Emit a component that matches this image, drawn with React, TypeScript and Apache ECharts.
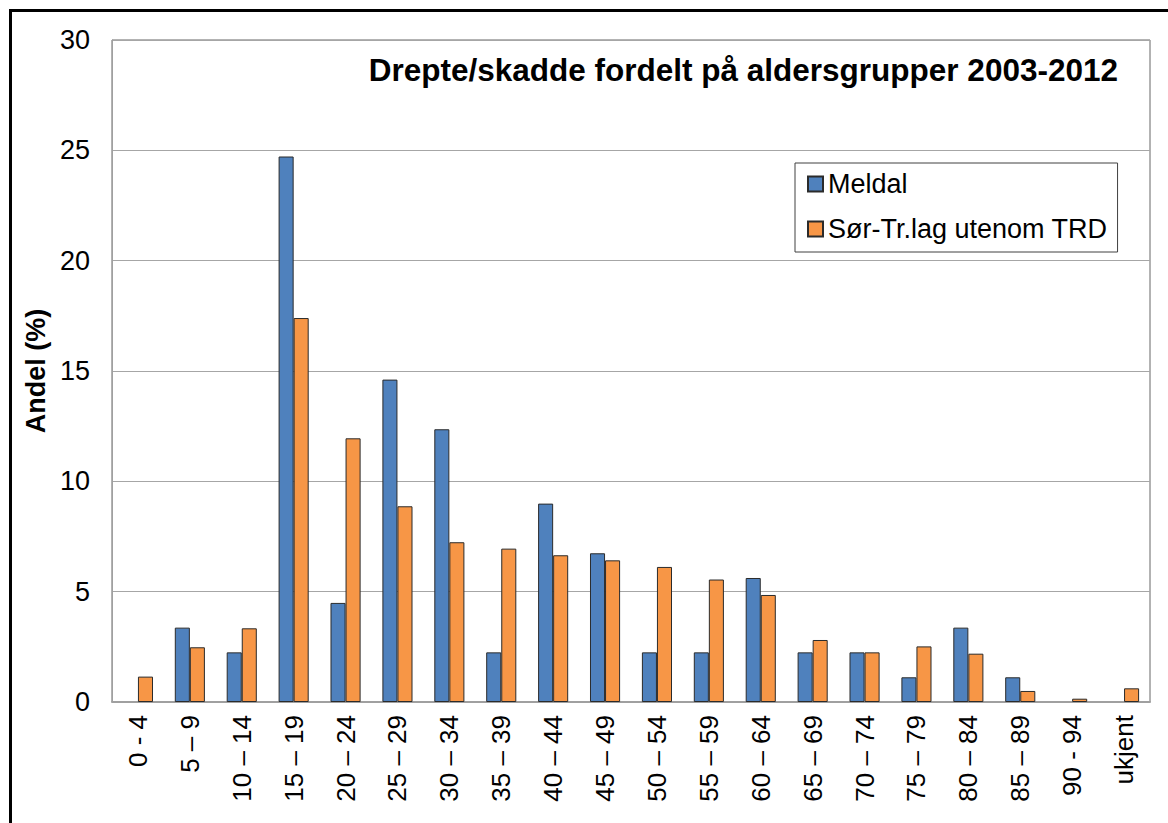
import React, { useEffect, useRef } from "react";
import * as echarts from "echarts";

const categories = [
  "0 - 4", "5 – 9", "10 – 14", "15 – 19", "20 – 24", "25 – 29", "30 – 34",
  "35 – 39", "40 – 44", "45 – 49", "50 – 54", "55 – 59", "60 – 64", "65 – 69",
  "70 – 74", "75 – 79", "80 – 84", "85 – 89", "90 - 94", "ukjent",
];
const meldal = [
  0, 3.37, 2.25, 24.72, 4.49, 14.61, 12.36, 2.25, 8.99, 6.74,
  2.25, 2.25, 5.62, 2.25, 2.25, 1.12, 3.37, 1.12, 0, 0,
];
const sorTrlag = [
  1.15, 2.48, 3.34, 17.4, 11.95, 8.87, 7.24, 6.95, 6.65, 6.42,
  6.12, 5.55, 4.85, 2.81, 2.25, 2.52, 2.19, 0.5, 0.15, 0.62,
];
const seriesNames = ["Meldal", "Sør-Tr.lag utenom TRD"];
const titleText = "Drepte/skadde fordelt på aldersgrupper 2003-2012";
const yAxisName = "Andel (%)";

const FONT = "'Liberation Sans', Arial, sans-serif";

const toBarData = (vals: number[]) =>
  vals.map((v) => (v === 0 ? { value: 0, itemStyle: { borderWidth: 0 } } : v));

export default function App() {
  const ref = useRef<HTMLDivElement>(null);
  useEffect(() => {
    if (!ref.current) return;
    const chart = echarts.init(ref.current, null, { renderer: "svg" });
    chart.setOption({
      animation: false,
      backgroundColor: "#ffffff",
      textStyle: { fontFamily: FONT },
      title: {
        text: titleText,
        right: 50,
        top: 53,
        padding: 0,
        textStyle: {
          fontFamily: FONT,
          fontSize: 31.5,
          fontWeight: "bold",
          color: "#000",
          lineHeight: 34,
        },
      },
      legend: {
        orient: "vertical",
        left: 795,
        top: 163,
        padding: [6, 10, 8, 12],
        itemWidth: 15,
        itemHeight: 15,
        itemGap: 15,
        icon: "rect",
        backgroundColor: "#fff",
        borderColor: "#404040",
        borderWidth: 1,
        borderRadius: 0,
        textStyle: {
          fontFamily: FONT,
          fontSize: 27,
          color: "#000",
          lineHeight: 30,
        },
        data: seriesNames,
      },
      grid: {
        left: 112,
        top: 40,
        right: 18,
        bottom: 121,
        show: true,
        borderColor: "#666",
        borderWidth: 1,
        backgroundColor: "transparent",
      },
      xAxis: {
        type: "category",
        data: categories,
        axisLine: { show: true, lineStyle: { color: "#a0a0a0", width: 2 } },
        axisTick: { show: false },
        axisLabel: {
          rotate: 90,
          interval: 0,
          margin: 13,
          fontFamily: FONT,
          fontSize: 26,
          color: "#000",
        },
      },
      yAxis: {
        type: "value",
        min: 0,
        max: 30,
        interval: 5,
        name: yAxisName,
        nameLocation: "middle",
        nameGap: 58,
        nameTextStyle: {
          fontFamily: FONT,
          fontSize: 27,
          fontWeight: "bold",
          color: "#000",
        },
        axisLine: { show: true, lineStyle: { color: "#a0a0a0", width: 1 } },
        axisTick: { show: false },
        axisLabel: {
          margin: 22,
          fontFamily: FONT,
          fontSize: 27,
          color: "#000",
        },
        splitLine: { show: true, lineStyle: { color: "#a6a6a6", width: 1 } },
      },
      series: [
        {
          name: seriesNames[0],
          type: "bar",
          data: toBarData(meldal),
          barGap: "0%",
          barCategoryGap: "42%",
          itemStyle: { color: "#4F81BD", borderColor: "#2b2b2b", borderWidth: 1 },
        },
        {
          name: seriesNames[1],
          type: "bar",
          data: toBarData(sorTrlag),
          barGap: "0%",
          barCategoryGap: "42%",
          itemStyle: { color: "#F79646", borderColor: "#2b2b2b", borderWidth: 1 },
        },
      ],
      graphic: [
        {
          type: "rect",
          silent: true,
          z: 100,
          shape: { x: 10.5, y: 10.5, width: 1300, height: 1000 },
          style: { fill: "none", stroke: "#000", lineWidth: 3 },
        },
      ],
    });
    return () => chart.dispose();
  }, []);
  return (
    <div
      ref={ref}
      style={{ position: "fixed", left: 0, top: 0, width: 1168, height: 823 }}
    />
  );
}
